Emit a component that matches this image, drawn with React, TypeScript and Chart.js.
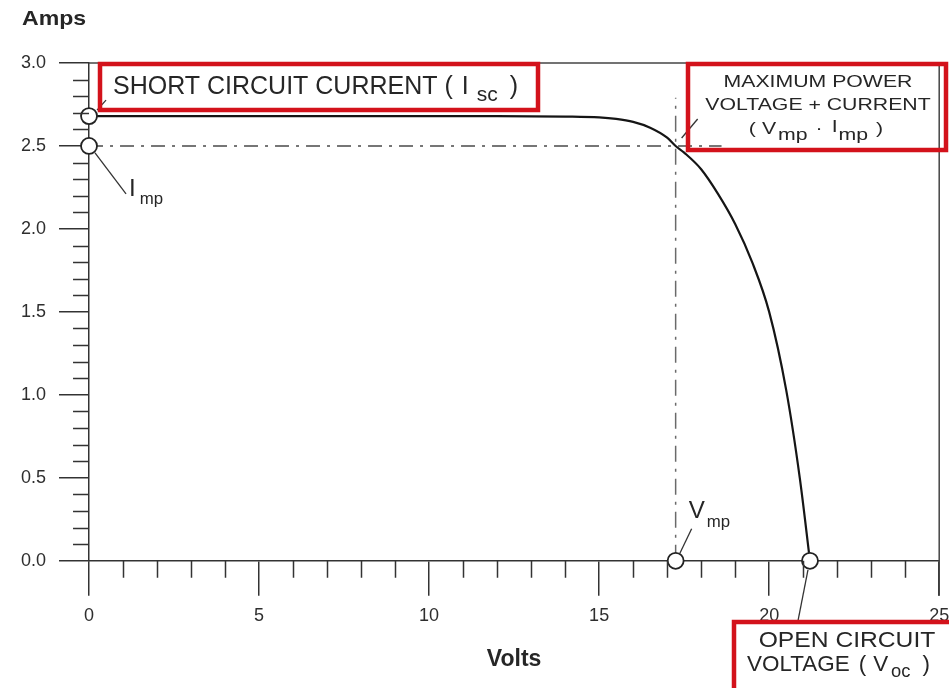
import React, { useEffect, useRef } from "react";
import { Chart, registerables } from "chart.js";

Chart.register(...registerables);

// ---- data ----
const voltage = [0, 2, 5, 8, 10, 12, 14, 15, 15.5, 16, 16.5, 17, 17.25, 17.5, 18, 18.5, 19, 19.5, 20, 20.5, 20.9, 21.2];
const current = [2.68, 2.68, 2.68, 2.68, 2.68, 2.68, 2.677, 2.672, 2.663, 2.645, 2.61, 2.55, 2.5, 2.46, 2.36, 2.21, 2.03, 1.8, 1.5, 1.03, 0.5, 0];

const iscAmps = 2.68;
const impAmps = 2.5;
const vmpVolts = 17.25;
const vocVolts = 21.2;

const markerVolts = [0, 0, vmpVolts, vocVolts];
const markerAmps = [iscAmps, impAmps, 0, 0];

const impLineVolts = [0, 18.6];
const vmpLineAmps = [0, 2.79];

const xTickLabels = ["0", "5", "10", "15", "20", "25"];
const yTickLabels = ["0.0", "0.5", "1.0", "1.5", "2.0", "2.5", "3.0"];

const FONT = '"Liberation Sans", Arial, Helvetica, sans-serif';
const INK = "#262626";
const RED = "#d3121b";

type Seg = { t: string; size: number; dy?: number; gap?: number; bold?: boolean };

function drawRun(ctx: CanvasRenderingContext2D, segs: Seg[], x: number, y: number, sx: number, align: "left" | "center") {
  ctx.save();
  ctx.fillStyle = INK;
  ctx.textBaseline = "middle";
  ctx.textAlign = "left";
  const widths = segs.map((s) => {
    ctx.font = `${s.bold ? "bold " : ""}${s.size}px ${FONT}`;
    return ctx.measureText(s.t).width * sx;
  });
  let total = 0;
  segs.forEach((s, i) => (total += (s.gap || 0) + widths[i]));
  let cx = align === "center" ? x - total / 2 : x;
  segs.forEach((s, i) => {
    cx += s.gap || 0;
    ctx.save();
    ctx.font = `${s.bold ? "bold " : ""}${s.size}px ${FONT}`;
    ctx.translate(cx, y + (s.dy || 0));
    ctx.scale(sx, 1);
    ctx.fillText(s.t, 0, 0);
    ctx.restore();
    cx += widths[i];
  });
  ctx.restore();
}

function line(ctx: CanvasRenderingContext2D, x1: number, y1: number, x2: number, y2: number, w = 1.3, c = "#333") {
  ctx.save();
  ctx.strokeStyle = c;
  ctx.lineWidth = w;
  ctx.beginPath();
  ctx.moveTo(x1, y1);
  ctx.lineTo(x2, y2);
  ctx.stroke();
  ctx.restore();
}

const decorPlugin = {
  id: "ivDecor",
  afterDraw(chart: any) {
    const ctx: CanvasRenderingContext2D = chart.ctx;
    const xs = chart.scales.x;
    const ys = chart.scales.y;
    const { left, right, top, bottom } = chart.chartArea;

    // minor ticks
    ctx.save();
    ctx.strokeStyle = "#333";
    ctx.lineWidth = 1.5;
    ctx.beginPath();
    for (let k = 1; k < 30; k++) {
      if (k % 5 === 0) continue;
      const py = Math.round(ys.getPixelForValue(k / 10)) + 0.5;
      ctx.moveTo(left - 16, py);
      ctx.lineTo(left, py);
    }
    for (let k = 1; k < 25; k++) {
      if (k % 5 === 0) continue;
      const px = Math.round(xs.getPixelForValue(k)) + 0.5;
      ctx.moveTo(px, bottom);
      ctx.lineTo(px, bottom + 17);
    }
    ctx.stroke();
    ctx.restore();

    // frame: top and right
    line(ctx, left, top, right, top, 1.5, "#444");
    line(ctx, right, top, right, bottom + 35, 1.5, "#444");

    // marker pixel positions
    const isc = { x: xs.getPixelForValue(0), y: ys.getPixelForValue(iscAmps) };
    const imp = { x: xs.getPixelForValue(0), y: ys.getPixelForValue(impAmps) };
    const vmp = { x: xs.getPixelForValue(vmpVolts), y: ys.getPixelForValue(0) };
    const voc = { x: xs.getPixelForValue(vocVolts), y: ys.getPixelForValue(0) };
    const mpp = { x: xs.getPixelForValue(vmpVolts), y: ys.getPixelForValue(impAmps) };

    // leader lines
    line(ctx, isc.x + 8, isc.y - 6, isc.x + 17, isc.y - 16);
    line(ctx, imp.x + 6, imp.y + 7, imp.x + 37, imp.y + 48);
    line(ctx, vmp.x + 4, vmp.y - 7, vmp.x + 16, vmp.y - 32);
    line(ctx, voc.x - 2, voc.y + 9, voc.x - 12, voc.y + 60);
    line(ctx, mpp.x + 6, mpp.y - 8, mpp.x + 22, mpp.y - 27);

    // small labels
    drawRun(ctx, [{ t: "I", size: 23 }, { t: "mp", size: 16, gap: 4, dy: 10 }], imp.x + 40, imp.y + 44, 1.05, "left");
    drawRun(ctx, [{ t: "V", size: 23 }, { t: "mp", size: 16, gap: 2, dy: 11 }], vmp.x + 13, vmp.y - 49, 1.05, "left");

    // boxes
    ctx.save();
    ctx.strokeStyle = RED;
    ctx.lineWidth = 4.5;
    ctx.strokeRect(100, 64, 438, 46);
    ctx.strokeRect(688, 64, 258, 86);
    ctx.strokeRect(734, 622, 240, 100);
    ctx.restore();

    // box texts
    drawRun(
      ctx,
      [
        { t: "SHORT CIRCUIT CURRENT (", size: 25 },
        { t: "I", size: 25, gap: 9 },
        { t: "sc", size: 21, gap: 8, dy: 8 },
        { t: ")", size: 25, gap: 12 },
      ],
      113,
      87,
      1,
      "left"
    );

    drawRun(ctx, [{ t: "MAXIMUM POWER", size: 17 }], 818, 82, 1.25, "center");
    drawRun(ctx, [{ t: "VOLTAGE + CURRENT", size: 17 }], 818, 105, 1.25, "center");
    drawRun(
      ctx,
      [
        { t: "(", size: 17 },
        { t: "V", size: 17, gap: 6 },
        { t: "mp", size: 17, gap: 2, dy: 6 },
        { t: "·", size: 17, gap: 8 },
        { t: "I", size: 17, gap: 9, dy: -2 },
        { t: "mp", size: 17, gap: 1, dy: 6 },
        { t: ")", size: 17, gap: 8 },
      ],
      816,
      129,
      1.25,
      "center"
    );

    drawRun(ctx, [{ t: "OPEN CIRCUIT", size: 22 }], 847, 641, 1.12, "center");
    drawRun(
      ctx,
      [
        { t: "VOLTAGE", size: 22 },
        { t: "(", size: 22, gap: 9 },
        { t: "V", size: 22, gap: 7 },
        { t: "oc", size: 18, gap: 3, dy: 7 },
        { t: ")", size: 22, gap: 12 },
      ],
      747,
      665,
      1.02,
      "left"
    );

    // axis name (y)
    drawRun(ctx, [{ t: "Amps", size: 21, bold: true }], 22, 19, 1.1, "left");
  },
};

export default function App() {
  const ref = useRef<HTMLCanvasElement | null>(null);

  useEffect(() => {
    if (!ref.current) return;
    const pts = (xsArr: number[], ysArr: number[]) => xsArr.map((x, i) => ({ x, y: ysArr[i] }));
    const chart = new Chart(ref.current, {
      type: "scatter",
      data: {
        datasets: [
          {
            label: "markers",
            data: pts(markerVolts, markerAmps),
            showLine: false,
            pointRadius: 8,
            pointHoverRadius: 8,
            pointBackgroundColor: "#ffffff",
            pointBorderColor: "#222",
            pointBorderWidth: 1.8,
            clip: false,
            order: 0,
          } as any,
          {
            label: "I-V curve",
            data: pts(voltage, current),
            showLine: true,
            borderColor: "#151515",
            borderWidth: 2.2,
            pointRadius: 0,
            cubicInterpolationMode: "monotone",
            clip: false,
            order: 1,
          } as any,
          {
            label: "Imp",
            data: pts(impLineVolts, [impAmps, impAmps]),
            showLine: true,
            borderColor: "#4a4a4a",
            borderWidth: 1.5,
            borderDash: [14, 7, 3, 7],
            pointRadius: 0,
            clip: false,
            order: 2,
          } as any,
          {
            label: "Vmp",
            data: pts([vmpVolts, vmpVolts], vmpLineAmps),
            showLine: true,
            borderColor: "#6a6a6a",
            borderWidth: 1.5,
            borderDash: [16, 7, 3, 7],
            pointRadius: 0,
            clip: false,
            order: 3,
          } as any,
        ],
      },
      options: {
        responsive: false,
        animation: false,
        events: [],
        layout: { padding: { left: 8, top: 63, right: 9, bottom: 15 } },
        plugins: { legend: { display: false }, tooltip: { enabled: false } },
        scales: {
          x: {
            type: "linear",
            min: 0,
            max: 25,
            afterFit: (s: any) => {
              s.paddingRight = 0;
              s.paddingLeft = 0;
            },
            ticks: {
              stepSize: 5,
              padding: 9,
              color: "#2e2e2e",
              font: { family: FONT, size: 18 },
              maxRotation: 0,
              autoSkip: false,
              callback: (_v: any, i: number) => xTickLabels[i],
            },
            grid: { drawOnChartArea: false, drawTicks: true, tickLength: 35, color: "#333", lineWidth: 1.5 },
            border: { display: true, color: "#333", width: 1.5 },
            title: {
              display: true,
              text: "Volts",
              color: INK,
              font: { family: FONT, size: 23, weight: "bold" },
              padding: { top: 10, bottom: 0 },
            },
          },
          y: {
            type: "linear",
            min: 0,
            max: 3,
            ticks: {
              stepSize: 0.5,
              padding: 13,
              color: "#2e2e2e",
              font: { family: FONT, size: 18 },
              callback: (_v: any, i: number) => yTickLabels[i],
            },
            grid: { drawOnChartArea: false, drawTicks: true, tickLength: 30, color: "#333", lineWidth: 1.5 },
            border: { display: true, color: "#333", width: 1.5 },
          },
        },
      } as any,
      plugins: [decorPlugin],
    });
    return () => chart.destroy();
  }, []);

  return (
    <div style={{ position: "fixed", left: 0, top: 0, width: 949, height: 688, background: "#fff" }}>
      <canvas ref={ref} width={949} height={688} style={{ display: "block" }} />
    </div>
  );
}
